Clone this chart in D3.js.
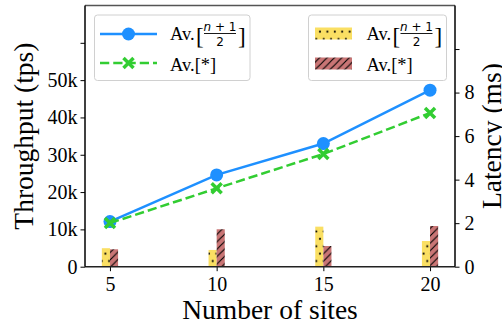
<!DOCTYPE html>
<html>
<head>
<meta charset="utf-8">
<script src="https://cdn.jsdelivr.net/npm/d3@7"></script>
<style>
  body { margin: 0; background: #fff; }
  svg { display: block; font-family: "Liberation Serif", serif; }
</style>
</head>
<body>
<svg id="chart"></svg>
<script>
// data
let sites = [5, 10, 15, 20]
let tputHalf = [12100, 24600, 33000, 47300]   // Av.[(n+1)/2] throughput
let tputAll = [11700, 21000, 30200, 41200]    // Av.[*] throughput
let latHalf = [0.85, 0.77, 1.84, 1.18]        // Av.[(n+1)/2] latency (ms)
let latAll = [0.80, 1.72, 0.95, 1.87]         // Av.[*] latency (ms)

let leftTicks = [0, 10000, 20000, 30000, 40000, 50000, 60000]
let leftTickLabels = ['0', '10k', '20k', '30k', '40k', '50k', '']
let rightTicks = [0, 2, 4, 6, 8, 10]
let rightTickLabels = ['0', '2', '4', '6', '8', '']

let width = 502
let height = 326
let plotLeft = 85, plotRight = 455, plotTop = 5.5, plotBottom = 266.7

let blue = '#1e90ff'
let green = '#32cd32'
let yellow = '#fadf63'
let red = '#c97575'

let svg = d3.select('#chart').attr('width', width).attr('height', height)

let xScale = d3.scaleLinear().domain([3.83, 21.17]).range([plotLeft, plotRight])
let yLeft = d3.scaleLinear().domain([0, 70000]).range([plotBottom, plotTop])
let yRight = d3.scaleLinear().domain([0, 12]).range([plotBottom, plotTop])

// hatch patterns
let defs = svg.append('defs')
let dots = defs.append('pattern')
    .attr('id', 'dots').attr('patternUnits', 'userSpaceOnUse')
    .attr('width', 7.4).attr('height', 14.8)
dots.append('rect').attr('width', 7.4).attr('height', 14.8).attr('fill', yellow)
dots.append('circle').attr('cx', 1.8).attr('cy', 2).attr('r', 1.1).attr('fill', '#000')
dots.append('circle').attr('cx', 5.5).attr('cy', 9.4).attr('r', 1.1).attr('fill', '#000')

let hatch = defs.append('pattern')
    .attr('id', 'hatch').attr('patternUnits', 'userSpaceOnUse')
    .attr('width', 7.4).attr('height', 7.4)
hatch.append('rect').attr('width', 7.4).attr('height', 7.4).attr('fill', red)
hatch.append('path')
    .attr('d', 'M0,7.4 L7.4,0 M-1.85,1.85 L1.85,-1.85 M5.55,9.25 L9.25,5.55')
    .attr('stroke', '#000').attr('stroke-width', 1.1)

// bars on the latency axis
let barW = 0.38
let bars = svg.append('g')
bars.selectAll('.bar-half')
    .data(sites)
    .enter()
    .append('rect')
    .attr('x', (d) => xScale(d - barW))
    .attr('width', (d) => xScale(d) - xScale(d - barW))
    .attr('y', (d, i) => yRight(latHalf[i]))
    .attr('height', (d, i) => yRight(0) - yRight(latHalf[i]))
    .attr('fill', 'url(#dots)')
bars.selectAll('.bar-all')
    .data(sites)
    .enter()
    .append('rect')
    .attr('x', (d) => xScale(d))
    .attr('width', (d) => xScale(d + barW) - xScale(d))
    .attr('y', (d, i) => yRight(latAll[i]))
    .attr('height', (d, i) => yRight(0) - yRight(latAll[i]))
    .attr('fill', 'url(#hatch)')

// throughput lines
let lineGen = d3.line().x((d, i) => xScale(sites[i])).y((d) => yLeft(d))
svg.append('path')
    .attr('d', lineGen(tputHalf))
    .attr('fill', 'none').attr('stroke', blue).attr('stroke-width', 2.5)
svg.selectAll('.dot-half')
    .data(tputHalf)
    .enter()
    .append('circle')
    .attr('cx', (d, i) => xScale(sites[i]))
    .attr('cy', (d) => yLeft(d))
    .attr('r', 6.5)
    .attr('fill', blue)

svg.append('path')
    .attr('d', lineGen(tputAll))
    .attr('fill', 'none').attr('stroke', green).attr('stroke-width', 2.5)
    .attr('stroke-dasharray', '9.25,4')
let xMark = (s) => `M${-s},${-s}L${s},${s}M${-s},${s}L${s},${-s}`
svg.selectAll('.x-all')
    .data(tputAll)
    .enter()
    .append('path')
    .attr('transform', (d, i) => `translate(${xScale(sites[i])},${yLeft(d)})`)
    .attr('d', xMark(5))
    .attr('stroke', green).attr('stroke-width', 3.5).attr('fill', 'none')

// axes
let styleAxis = (g) => {
    g.select('.domain').remove()
    g.selectAll('text').attr('font-size', 20).attr('font-family', '"Liberation Serif", serif').attr('fill', '#000')
    g.selectAll('line').attr('stroke', '#000').attr('stroke-width', 1)
}
svg.append('g')
    .attr('transform', `translate(${plotLeft},0)`)
    .call(d3.axisLeft(yLeft).tickValues(leftTicks).tickFormat((d, i) => leftTickLabels[i]).tickSize(4.5).tickPadding(3))
    .call(styleAxis)
svg.append('g')
    .attr('transform', `translate(${plotRight},0)`)
    .call(d3.axisRight(yRight).tickValues(rightTicks).tickFormat((d, i) => rightTickLabels[i]).tickSize(4.5).tickPadding(5))
    .call(styleAxis)
svg.append('g')
    .attr('transform', `translate(0,${plotBottom})`)
    .call(d3.axisBottom(xScale).tickValues(sites).tickFormat(d3.format('d')).tickSize(4.5).tickPadding(6))
    .call(styleAxis)

// spines
svg.append('line').attr('x1', plotLeft).attr('x2', plotRight).attr('y1', plotTop).attr('y2', plotTop)
    .attr('stroke', '#555').attr('stroke-width', 1.5)
svg.append('line').attr('x1', plotLeft).attr('x2', plotRight).attr('y1', plotBottom).attr('y2', plotBottom)
    .attr('stroke', '#222').attr('stroke-width', 1.5)
svg.append('line').attr('x1', plotLeft).attr('x2', plotLeft).attr('y1', plotTop).attr('y2', plotBottom)
    .attr('stroke', '#000').attr('stroke-width', 1.5)
svg.append('line').attr('x1', plotRight).attr('x2', plotRight).attr('y1', plotTop).attr('y2', plotBottom)
    .attr('stroke', '#000').attr('stroke-width', 1.5)

// axis titles
svg.append('text')
    .attr('transform', `translate(33,${(plotTop + plotBottom) / 2}) rotate(-90)`)
    .attr('text-anchor', 'middle').attr('font-size', 27.5)
    .text('Throughput (tps)')
svg.append('text')
    .attr('transform', `translate(501,${(plotTop + plotBottom) / 2}) rotate(-90)`)
    .attr('text-anchor', 'middle').attr('font-size', 27.5)
    .text('Latency (ms)')
svg.append('text')
    .attr('x', (plotLeft + plotRight) / 2).attr('y', 319)
    .attr('text-anchor', 'middle').attr('font-size', 27.5)
    .text('Number of sites')

// legend label with the (n+1)/2 fraction
let fracLabel = (g, x, y) => {
    g.append('text').attr('x', x).attr('y', y).attr('font-size', 18.5).text('Av.')
    g.append('text').attr('x', x + 26).attr('y', y + 3.5).attr('font-size', 23).text('[')
    let fx = x + 50
    g.append('text').attr('x', fx).attr('y', y - 9)
        .attr('text-anchor', 'middle').attr('font-family', '"DejaVu Sans", sans-serif').attr('font-size', 12)
        .html('<tspan font-style="italic">n</tspan> + 1')
    g.append('line').attr('x1', fx - 16).attr('x2', fx + 16).attr('y1', y - 6.5).attr('y2', y - 6.5)
        .attr('stroke', '#000').attr('stroke-width', 0.9)
    g.append('text').attr('x', fx).attr('y', y + 6)
        .attr('text-anchor', 'middle').attr('font-family', '"DejaVu Sans", sans-serif').attr('font-size', 12)
        .text('2')
    g.append('text').attr('x', x + 68).attr('y', y + 3.5).attr('font-size', 23).text(']')
}

// line legend
let legL = svg.append('g')
legL.append('rect').attr('x', 94.5).attr('y', 15).attr('width', 155.5).attr('height', 65.5)
    .attr('rx', 3).attr('fill', '#fff').attr('fill-opacity', 0.8).attr('stroke', '#d0d0d0')
legL.append('line').attr('x1', 100).attr('x2', 157).attr('y1', 34).attr('y2', 34)
    .attr('stroke', blue).attr('stroke-width', 2.5)
legL.append('circle').attr('cx', 128.5).attr('cy', 34).attr('r', 6.5).attr('fill', blue)
legL.append('line').attr('x1', 100).attr('x2', 157).attr('y1', 63).attr('y2', 63)
    .attr('stroke', green).attr('stroke-width', 2.5).attr('stroke-dasharray', '9.25,4')
legL.append('path').attr('transform', 'translate(128.5,63)').attr('d', xMark(5))
    .attr('stroke', green).attr('stroke-width', 3.5)
fracLabel(legL, 170, 40)
legL.append('text').attr('x', 170).attr('y', 71).attr('font-size', 18.5).text('Av.[*]')

// bar legend
let legR = svg.append('g')
legR.append('rect').attr('x', 308.5).attr('y', 15).attr('width', 138).attr('height', 65.5)
    .attr('rx', 3).attr('fill', '#fff').attr('fill-opacity', 0.8).attr('stroke', '#d0d0d0')
legR.append('rect').attr('x', 315).attr('y', 27.5).attr('width', 37).attr('height', 12).attr('fill', 'url(#dots)')
legR.append('rect').attr('x', 315).attr('y', 57.5).attr('width', 37).attr('height', 12).attr('fill', 'url(#hatch)')
fracLabel(legR, 366.5, 40)
legR.append('text').attr('x', 366.5).attr('y', 71).attr('font-size', 18.5).text('Av.[*]')
</script>
</body>
</html>
